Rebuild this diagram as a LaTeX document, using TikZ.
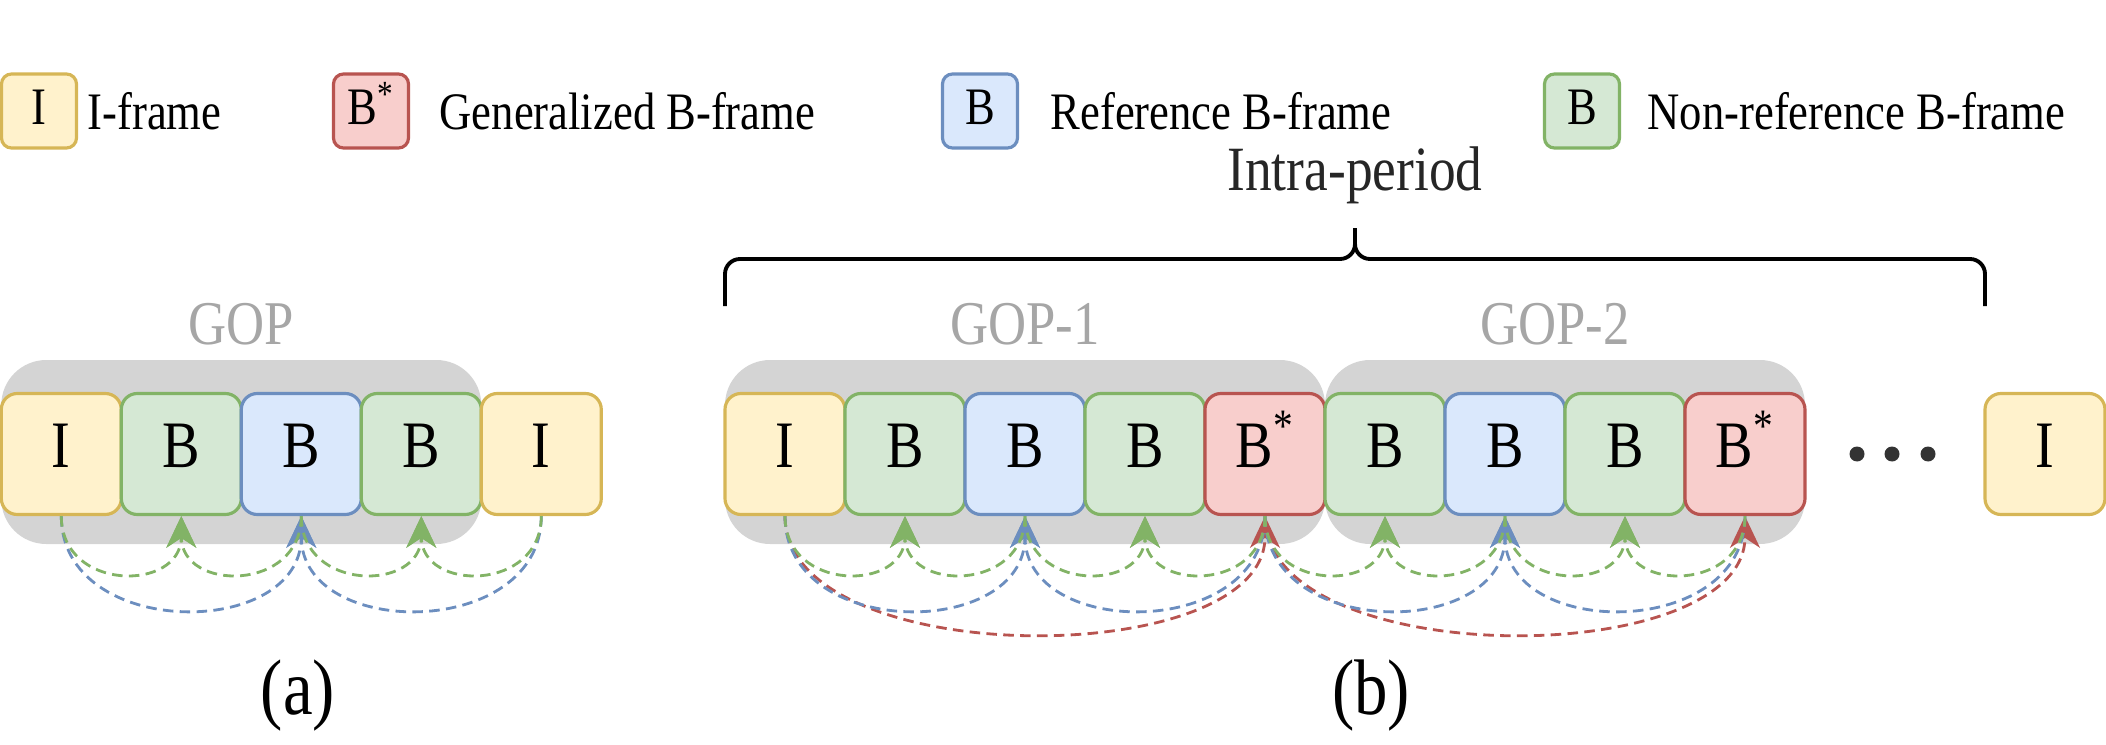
\documentclass[tikz,border=0pt]{standalone}
\usepackage{fontspec}
\usepackage{graphicx}
\setmainfont{Liberation Serif}
\usetikzlibrary{arrows.meta}
\definecolor{ifill}{HTML}{FFF2CC}
\definecolor{idraw}{HTML}{D6B656}
\definecolor{rfill}{HTML}{F8CECC}
\definecolor{rdraw}{HTML}{B85450}
\definecolor{bfill}{HTML}{DAE8FC}
\definecolor{bdraw}{HTML}{6C8EBF}
\definecolor{gfill}{HTML}{D5E8D4}
\definecolor{gdraw}{HTML}{82B366}
\definecolor{gopfill}{HTML}{D4D4D4}
\definecolor{goptext}{HTML}{A6A6A6}
% taller letters, as in the figure
\newcommand{\st}[1]{\scalebox{1}[1.18]{#1}}
\tikzset{%
fr/.style={draw=#1draw,fill=#1fill,line width=0.9pt,rounded corners=0.16cm,
  minimum width=1.2cm,minimum height=1.21cm,inner sep=0pt,
  text height=0.78em,text depth=0pt,font=\fontsize{16}{16}\selectfont},
%legend boxes
kfr/.style={draw=#1draw,fill=#1fill,line width=0.9pt,rounded corners=0.1cm,
  minimum width=0.75cm,minimum height=0.74cm,inner sep=0pt,
  text height=0.78em,text depth=0pt,font=\fontsize{12.7}{12.7}\selectfont},
ktext/.style={anchor=west,inner sep=0pt,font=\fontsize{12.7}{12.7}\selectfont},
gop/.style={fill=gopfill,rounded corners=0.45cm},
goplabel/.style={text=goptext,font=\fontsize{15}{15}\selectfont},
link/.style={draw=#1,line width=0.8pt,dash pattern=on 3pt off 1.8pt,
  ->,>={Stealth[length=9pt,width=8.5pt,inset=2.8pt]}},
}
\begin{document}
\begin{tikzpicture}
\useasboundingbox (0,0) rectangle (21.06,7.44);
% legend
\node[kfr=i] (ki) at (0.39,6.33) {\st{I}};
\node[ktext] (kit) at (0.87,6.33) {\st{I-frame}};
\node[kfr=r] (kr) at (3.71,6.33) {\st{B\textsuperscript{*}}};
\node[ktext] (krt) at (4.39,6.33) {\st{Generalized B-frame}};
\node[kfr=b] (kb) at (9.80,6.33) {\st{B}};
\node[ktext] (kbt) at (10.50,6.33) {\st{Reference B-frame}};
\node[kfr=g] (kg) at (15.82,6.33) {\st{B}};
\node[ktext] (kgt) at (16.47,6.33) {\st{Non-reference B-frame}};
% (a)
\fill[gop] (0.013,2.00) rectangle (4.813,3.84);
\node[goplabel] (gopa) at (2.41,4.20) {\st{GOP}};
\node[fr=i] (a0) at (0.613,2.9) {\st{I}};
\node[fr=g] (a1) at (1.813,2.9) {\st{B}};
\node[fr=b] (a2) at (3.013,2.9) {\st{B}};
\node[fr=g] (a3) at (4.213,2.9) {\st{B}};
\node[fr=i] (a4) at (5.413,2.9) {\st{I}};
\draw[link=bdraw] (a0.south) .. controls +(0,-1.24) and +(0,-1.24) .. (a2.south);
\draw[link=bdraw] (a4.south) .. controls +(0,-1.24) and +(0,-1.24) .. (a2.south);
\draw[link=gdraw] (a0.south) .. controls +(0,-0.76) and +(0,-0.76) .. (a1.south);
\draw[link=gdraw] (a2.south) .. controls +(0,-0.76) and +(0,-0.76) .. (a1.south);
\draw[link=gdraw] (a2.south) .. controls +(0,-0.76) and +(0,-0.76) .. (a3.south);
\draw[link=gdraw] (a4.south) .. controls +(0,-0.76) and +(0,-0.76) .. (a3.south);
\node[font=\fontsize{19}{19}\selectfont] (capa) at (2.98,0.48) {\st{(a)}};
% (b)
\draw[line width=1.1pt] (7.25,4.38) -- (7.25,4.70) to[out=90,in=180] (7.40,4.85)
  -- (13.40,4.85) to[out=0,in=-90] (13.55,5.00) -- (13.55,5.16);
\draw[line width=1.1pt] (19.85,4.38) -- (19.85,4.70) to[out=90,in=0] (19.70,4.85)
  -- (13.70,4.85) to[out=180,in=-90] (13.55,5.00);
\node[text=black!85,font=\fontsize{15.2}{15.2}\selectfont] (intra) at (13.55,5.69) {\st{Intra-period}};
\fill[gop] (7.25,2.00) rectangle (13.25,3.84);
\fill[gop] (13.25,2.00) rectangle (18.05,3.84);
\node[goplabel] (gop1) at (10.25,4.20) {\st{GOP-1}};
\node[goplabel] (gop2) at (15.55,4.20) {\st{GOP-2}};
\node[fr=i] (b0) at (7.85,2.9) {\st{I}};
\node[fr=g] (b1) at (9.05,2.9) {\st{B}};
\node[fr=b] (b2) at (10.25,2.9) {\st{B}};
\node[fr=g] (b3) at (11.45,2.9) {\st{B}};
\node[fr=r] (b4) at (12.65,2.9) {\st{B\textsuperscript{*}}};
\node[fr=g] (b5) at (13.85,2.9) {\st{B}};
\node[fr=b] (b6) at (15.05,2.9) {\st{B}};
\node[fr=g] (b7) at (16.25,2.9) {\st{B}};
\node[fr=r] (b8) at (17.45,2.9) {\st{B\textsuperscript{*}}};
\foreach \x in {18.57,18.92,19.28} \fill[black!80] (\x,2.9) circle (0.075);
\node[fr=i] (b9) at (20.45,2.9) {\st{I}};
\draw[link=rdraw] (b0.south) .. controls +(0,-1.56) and +(0,-1.56) .. (b4.south);
\draw[link=rdraw] (b4.south) .. controls +(0,-1.56) and +(0,-1.56) .. (b8.south);
\draw[link=bdraw] (b0.south) .. controls +(0,-1.24) and +(0,-1.24) .. (b2.south);
\draw[link=bdraw] (b4.south) .. controls +(0,-1.24) and +(0,-1.24) .. (b2.south);
\draw[link=bdraw] (b4.south) .. controls +(0,-1.24) and +(0,-1.24) .. (b6.south);
\draw[link=bdraw] (b8.south) .. controls +(0,-1.24) and +(0,-1.24) .. (b6.south);
\draw[link=gdraw] (b0.south) .. controls +(0,-0.76) and +(0,-0.76) .. (b1.south);
\draw[link=gdraw] (b2.south) .. controls +(0,-0.76) and +(0,-0.76) .. (b1.south);
\draw[link=gdraw] (b2.south) .. controls +(0,-0.76) and +(0,-0.76) .. (b3.south);
\draw[link=gdraw] (b4.south) .. controls +(0,-0.76) and +(0,-0.76) .. (b3.south);
\draw[link=gdraw] (b4.south) .. controls +(0,-0.76) and +(0,-0.76) .. (b5.south);
\draw[link=gdraw] (b6.south) .. controls +(0,-0.76) and +(0,-0.76) .. (b5.south);
\draw[link=gdraw] (b6.south) .. controls +(0,-0.76) and +(0,-0.76) .. (b7.south);
\draw[link=gdraw] (b8.south) .. controls +(0,-0.76) and +(0,-0.76) .. (b7.south);
\node[font=\fontsize{19}{19}\selectfont] (capb) at (13.71,0.48) {\st{(b)}};
\end{tikzpicture}
\end{document}
